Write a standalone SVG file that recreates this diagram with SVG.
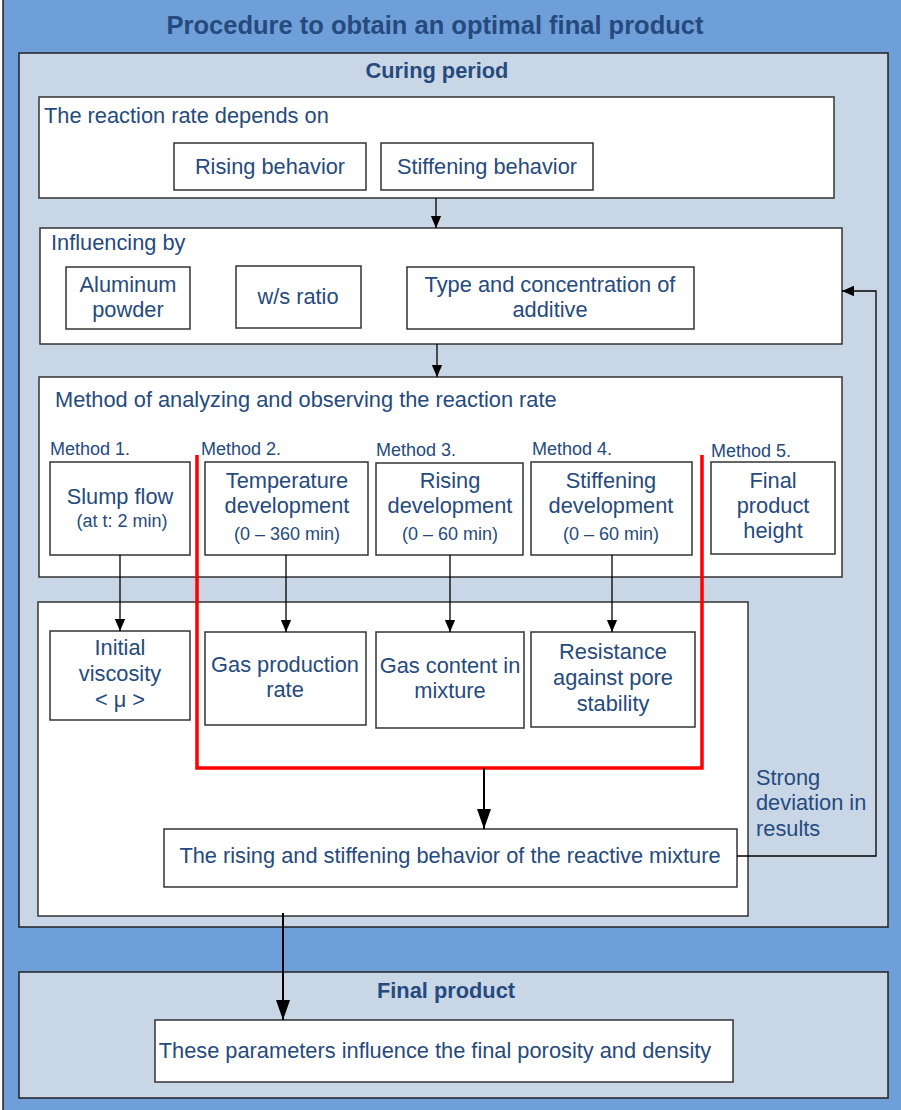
<svg xmlns="http://www.w3.org/2000/svg" width="901" height="1110" viewBox="0 0 901 1110">
<style>
.t{font-family:"Liberation Sans",Arial,sans-serif;fill:#264a7d;font-size:21.8px}
.c{text-anchor:middle}
.b{font-weight:bold}
.m{font-size:18px}
.s{font-size:18px}
.panel{fill:#c8d6e6;stroke:#222;stroke-width:1.5}
.box{fill:#fff;stroke:#333;stroke-width:1.5}
.ln{fill:none;stroke:#000;stroke-width:1.3}
.thick{fill:none;stroke:#000;stroke-width:2}
.red{fill:none;stroke:#f00;stroke-width:3.5}
</style>
<defs>
<marker id="ah" markerWidth="12" markerHeight="14" refX="14" refY="6" orient="auto" markerUnits="userSpaceOnUse" viewBox="0 0 14 12"><path d="M0,0 L14,6 L0,12 z" fill="#000"/></marker>
<marker id="ahb" markerWidth="20" markerHeight="14" refX="20" refY="7" orient="auto" markerUnits="userSpaceOnUse" viewBox="0 0 20 14"><path d="M0,0 L20,7 L0,14 z" fill="#000"/></marker>
</defs>
<rect x="3" y="-5" width="910" height="1125" fill="#6f9fd9" stroke="#222" stroke-width="1.5"/>
<text class="t b c" x="435" y="34" style="font-size:25.5px">Procedure to obtain an optimal final product</text>
<g id="curing">
<rect class="panel" x="19" y="53" width="869" height="874"/>
<text class="t b c" x="437" y="78">Curing period</text>
</g>
<g id="final-panel">
<rect class="panel" x="19" y="972" width="869" height="126"/>
<text class="t b c" x="446" y="998">Final product</text>
</g>
<g id="reaction">
<rect class="box" x="39" y="97" width="795" height="101"/>
<text class="t" x="44" y="123">The reaction rate depends on</text>
</g>
<g id="rising-behavior"><rect class="box" x="174" y="143" width="192" height="47"/><text class="t c" x="270" y="174">Rising behavior</text></g>
<g id="stiffening-behavior"><rect class="box" x="381" y="143" width="212" height="47"/><text class="t c" x="487" y="174">Stiffening behavior</text></g>
<g id="influencing">
<rect class="box" x="40" y="228" width="802" height="116"/>
<text class="t" x="51" y="250">Influencing by</text>
</g>
<g id="aluminum"><rect class="box" x="66" y="267" width="124" height="62"/><text class="t c" x="128" y="292">Aluminum</text><text class="t c" x="128" y="317">powder</text></g>
<g id="ws"><rect class="box" x="236" y="266" width="125" height="62"/><text class="t c" x="298" y="304">w/s ratio</text></g>
<g id="additive"><rect class="box" x="407" y="267" width="287" height="62"/><text class="t c" x="550" y="292">Type and concentration of</text><text class="t c" x="550" y="317">additive</text></g>
<g id="methods">
<rect class="box" x="39" y="377" width="803" height="200"/>
<text class="t" x="55" y="407">Method of analyzing and observing the reaction rate</text>
</g>
<g id="m1"><text class="t m" x="50" y="455">Method 1.</text><rect class="box" x="50" y="462" width="140" height="93"/><text class="t c" x="120" y="504">Slump flow</text><text class="t c s" x="122" y="527">(at t: 2 min)</text></g>
<g id="m2"><text class="t m" x="201" y="455">Method 2.</text><rect class="box" x="205" y="462" width="163" height="93"/><text class="t c" x="287" y="488">Temperature</text><text class="t c" x="287" y="513">development</text><text class="t c s" x="287" y="540">(0 – 360 min)</text></g>
<g id="m3"><text class="t m" x="376" y="456">Method 3.</text><rect class="box" x="376" y="463" width="147" height="92"/><text class="t c" x="450" y="488">Rising</text><text class="t c" x="450" y="513">development</text><text class="t c s" x="450" y="540">(0 – 60 min)</text></g>
<g id="m4"><text class="t m" x="532" y="455">Method 4.</text><rect class="box" x="531" y="462" width="161" height="93"/><text class="t c" x="611" y="488">Stiffening</text><text class="t c" x="611" y="513">development</text><text class="t c s" x="611" y="540">(0 – 60 min)</text></g>
<g id="m5"><text class="t m" x="711" y="457">Method 5.</text><rect class="box" x="711" y="462" width="124" height="92"/><text class="t c" x="773" y="488">Final</text><text class="t c" x="773" y="513">product</text><text class="t c" x="773" y="538">height</text></g>
<g id="results">
<rect class="box" x="38" y="602" width="710" height="314"/>
</g>
<g id="viscosity"><rect class="box" x="50" y="631" width="140" height="89"/><text class="t c" x="120" y="655">Initial</text><text class="t c" x="120" y="681">viscosity</text><text class="t c" x="120" y="707">&lt; μ &gt;</text></g>
<g id="gasprod"><rect class="box" x="205" y="632" width="161" height="93"/><text class="t c" x="285" y="672">Gas production</text><text class="t c" x="285" y="697">rate</text></g>
<g id="gascontent"><rect class="box" x="376" y="632" width="148" height="96"/><text class="t c" x="450" y="673">Gas content in</text><text class="t c" x="450" y="698">mixture</text></g>
<g id="resistance"><rect class="box" x="531" y="632" width="164" height="95"/><text class="t c" x="613" y="659">Resistance</text><text class="t c" x="613" y="685">against pore</text><text class="t c" x="613" y="711">stability</text></g>
<g id="behavior"><rect class="box" x="164" y="829" width="573" height="58"/><text class="t c" x="450" y="863">The rising and stiffening behavior of the reactive mixture</text></g>
<g id="final-box"><rect class="box" x="155" y="1020" width="578" height="62"/><text class="t c" x="435" y="1058">These parameters influence the final porosity and density</text></g>
<g id="deviation-label"><text class="t" x="756" y="785">Strong</text><text class="t" x="756" y="810">deviation in</text><text class="t" x="756" y="836">results</text></g>
<g id="connectors">
<path class="ln" d="M436,198 V228" marker-end="url(#ah)"/>
<path class="ln" d="M437,344 V377" marker-end="url(#ah)"/>
<path class="ln" d="M120,555 V631" marker-end="url(#ah)"/>
<path class="ln" d="M286,555 V632" marker-end="url(#ah)"/>
<path class="ln" d="M450,555 V632" marker-end="url(#ah)"/>
<path class="ln" d="M612,555 V632" marker-end="url(#ah)"/>
<path class="red" d="M197,455 V768 H702 V455"/>
<path class="thick" d="M484,768 V829" marker-end="url(#ahb)"/>
<path class="ln" d="M737,856 H876 V291 H842" marker-end="url(#ah)"/>
<path class="thick" d="M283,913 V1020" marker-end="url(#ahb)"/>
</g>
</svg>
